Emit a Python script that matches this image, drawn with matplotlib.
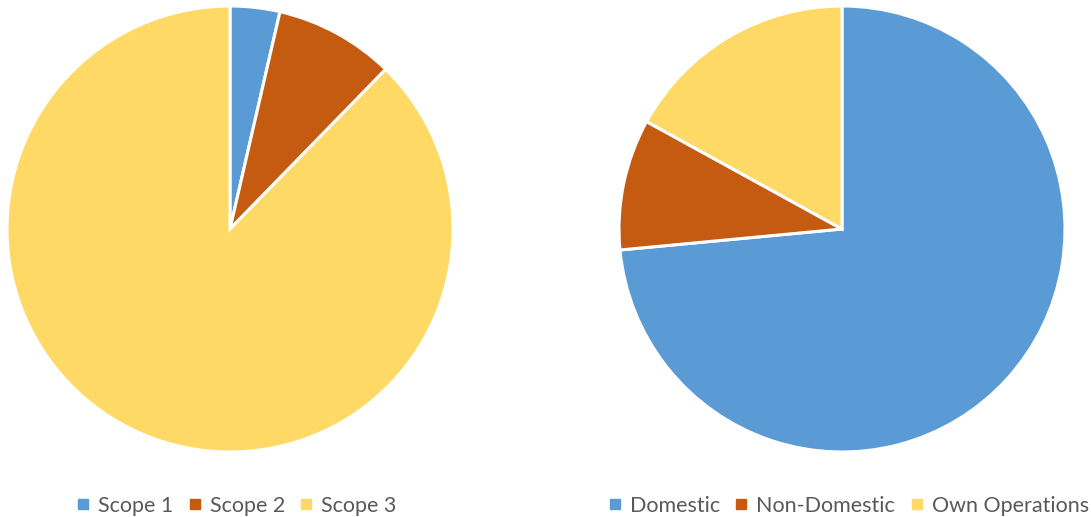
import numpy as np
import matplotlib.pyplot as plt
from matplotlib.lines import Line2D

# emissions split by scope
scope_labels = ['Scope 1', 'Scope 2', 'Scope 3']
scope_values = [3.6, 8.7, 87.7]

# split by origin
origin_labels = ['Domestic', 'Non-Domestic', 'Own Operations']
origin_values = [73.5, 9.5, 17.0]

colors = ['#5B9BD5', '#C55A11', '#FFD966']
text_color = '#595959'

W, H = 1091, 517
fig = plt.figure(figsize=(W / 100, H / 100), dpi=100)


def pie_axes(cx, cy, r):
    return fig.add_axes([(cx - r) / W, (H - cy - r) / H, 2 * r / W, 2 * r / H])


def draw_pie(ax, values):
    ax.pie(values, colors=colors, startangle=90, counterclock=False,
           radius=1.0, wedgeprops=dict(edgecolor='white', linewidth=2.2))
    ax.set_xlim(-1, 1)
    ax.set_ylim(-1, 1)
    ax.set_aspect('equal')
    ax.axis('off')


ax1 = pie_axes(230, 229, 223)
draw_pie(ax1, scope_values)
ax2 = pie_axes(842, 229, 223)
draw_pie(ax2, origin_values)


def add_legend(labels, cx):
    handles = [Line2D([], [], marker='s', linestyle='none', markersize=7.5,
                      markerfacecolor=c, markeredgecolor=c) for c in colors]
    fig.legend(handles, labels, loc='center', bbox_to_anchor=(cx / W, 1 - 506 / H),
               ncol=3, frameon=False, labelcolor=text_color,
               handlelength=0.7, handletextpad=0.35, columnspacing=0.65,
               prop={'family': 'Lato', 'size': 15.5})


add_legend(scope_labels, 236)
add_legend(origin_labels, 848)

fig.savefig('out.png', dpi=100)
